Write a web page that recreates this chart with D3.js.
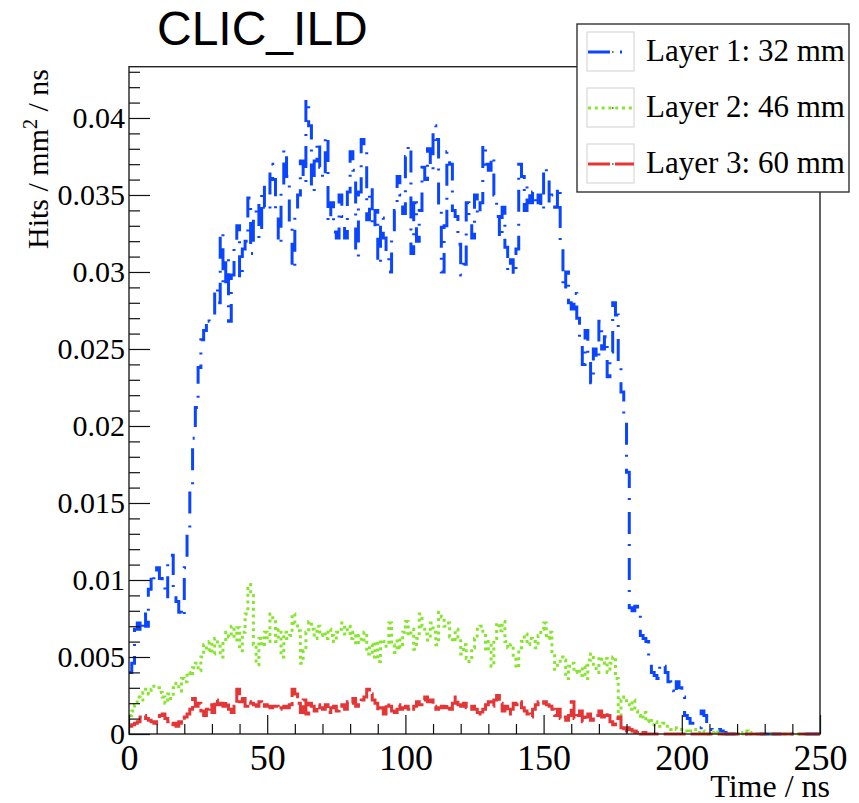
<!DOCTYPE html>
<html>
<head>
<meta charset="utf-8">
<script src="https://cdn.jsdelivr.net/npm/d3@7"></script>
<style>
  html, body { margin: 0; padding: 0; background: #fff; }
  svg { display: block; }
</style>
</head>
<body>
<svg id="chart" width="859" height="803"></svg>
<script>
// ---- data (1 ns bins, 0..250 ns) ----
const binEdges = [0, 250];
const layer1 = [
  0.0040,0.0046,0.0068,0.0072,0.0066,0.0078,0.0070,0.0094,0.0104,0.0100,
  0.0108,0.0101,0.0096,0.0088,0.0113,0.0116,0.0094,0.0086,0.0079,0.0076,
  0.0108,0.0132,0.0158,0.0192,0.0212,0.0238,0.0256,0.0262,0.0270,0.0268,
  0.0272,0.0290,0.0280,0.0326,0.0290,0.0310,0.0268,0.0298,0.0316,0.0330,
  0.0296,0.0315,0.0320,0.0348,0.0312,0.0335,0.0345,0.0322,0.0356,0.0342,
  0.0340,0.0370,0.0360,0.0338,0.0318,0.0355,0.0380,0.0362,0.0332,0.0302,
  0.0338,0.0350,0.0372,0.0358,0.0412,0.0395,0.0352,0.0372,0.0385,0.0368,
  0.0360,0.0389,0.0332,0.0345,0.0326,0.0322,0.0350,0.0336,0.0322,0.0352,
  0.0378,0.0366,0.0310,0.0352,0.0386,0.0378,0.0334,0.0355,0.0328,0.0340,
  0.0305,0.0335,0.0322,0.0312,0.0300,0.0325,0.0340,0.0362,0.0350,0.0338,
  0.0375,0.0383,0.0312,0.0345,0.0320,0.0340,0.0368,0.0360,0.0380,0.0366,
  0.0395,0.0386,0.0342,0.0300,0.0330,0.0378,0.0370,0.0340,0.0336,0.0318,
  0.0298,0.0305,0.0345,0.0330,0.0322,0.0350,0.0336,0.0345,0.0383,0.0370,
  0.0366,0.0375,0.0350,0.0336,0.0322,0.0342,0.0316,0.0300,0.0308,0.0298,
  0.0315,0.0370,0.0362,0.0340,0.0356,0.0345,0.0352,0.0342,0.0350,0.0340,
  0.0368,0.0360,0.0345,0.0350,0.0342,0.0355,0.0316,0.0288,0.0300,0.0280,
  0.0276,0.0286,0.0270,0.0256,0.0240,0.0262,0.0246,0.0228,0.0250,0.0243,
  0.0268,0.0250,0.0258,0.0232,0.0248,0.0280,0.0272,0.0240,0.0222,0.0205,
  0.0170,0.0082,0.0080,0.0083,0.0079,0.0064,0.0062,0.0060,0.0045,0.0040,
  0.0038,0.0036,0.0046,0.0044,0.0040,0.0034,0.0028,0.0025,0.0034,0.0030,
  0.0024,0.0012,0.0010,0.0007,0.0006,0.0005,0.0004,0.0015,0.0012,0.0006,
  0.0003,0.0002,0.0004,0.0003,0.0002,0.0001,0,0,0,0,
  0,0,0,0,0,0,0,0,0,0,
  0,0,0,0,0,0,0,0,0,0,
  0,0,0,0,0,0,0,0,0,0
];
const layer2 = [
  0.0012,0.0015,0.0019,0.0024,0.0022,0.0027,0.0029,0.0026,0.0029,0.0031,
  0.0030,0.0027,0.0024,0.0020,0.0026,0.0023,0.0030,0.0033,0.0028,0.0036,
  0.0034,0.0040,0.0038,0.0043,0.0046,0.0041,0.0050,0.0058,0.0054,0.0060,
  0.0052,0.0062,0.0057,0.0050,0.0060,0.0066,0.0063,0.0070,0.0061,0.0069,
  0.0054,0.0066,0.0078,0.0097,0.0090,0.0058,0.0045,0.0062,0.0057,0.0066,
  0.0060,0.0078,0.0074,0.0060,0.0068,0.0050,0.0066,0.0062,0.0064,0.0078,
  0.0072,0.0067,0.0046,0.0054,0.0066,0.0073,0.0068,0.0062,0.0070,0.0064,
  0.0066,0.0062,0.0068,0.0064,0.0060,0.0066,0.0068,0.0072,0.0065,0.0070,
  0.0062,0.0066,0.0058,0.0064,0.0060,0.0066,0.0052,0.0058,0.0050,0.0060,
  0.0047,0.0061,0.0060,0.0057,0.0072,0.0058,0.0053,0.0062,0.0056,0.0066,
  0.0073,0.0064,0.0068,0.0055,0.0062,0.0078,0.0070,0.0065,0.0061,0.0072,
  0.0066,0.0058,0.0079,0.0076,0.0070,0.0072,0.0063,0.0060,0.0068,0.0063,
  0.0052,0.0058,0.0049,0.0047,0.0056,0.0062,0.0068,0.0070,0.0064,0.0054,
  0.0060,0.0044,0.0062,0.0072,0.0067,0.0073,0.0060,0.0056,0.0058,0.0050,
  0.0043,0.0056,0.0060,0.0065,0.0058,0.0062,0.0060,0.0056,0.0064,0.0068,
  0.0072,0.0062,0.0066,0.0052,0.0042,0.0046,0.0050,0.0048,0.0036,0.0044,
  0.0046,0.0040,0.0042,0.0038,0.0044,0.0036,0.0048,0.0052,0.0044,0.0040,
  0.0050,0.0046,0.0049,0.0040,0.0046,0.0050,0.0036,0.0010,0.0022,0.0024,
  0.0019,0.0016,0.0022,0.0015,0.0012,0.0010,0.0014,0.0008,0.0010,0.0006,
  0.0008,0.0006,0.0005,0.0007,0.0005,0.0005,0.0003,0.0004,0.0003,0.0003,
  0.0002,0.0002,0.0001,0.0002,0.0003,0.0001,0.0001,0.0002,0.0001,0,
  0,0.0001,0.0002,0.0001,0,0,0,0,0,0,
  0,0,0.0001,0.0002,0.0001,0,0,0,0,0,
  0,0,0,0,0,0,0,0,0,0,
  0,0,0,0,0,0,0,0,0,0
];
const layer3 = [
  0.0005,0.0006,0.0007,0.0008,0.0011,0.0012,0.0010,0.0009,0.0008,0.0007,
  0.0008,0.0012,0.0013,0.0010,0.0008,0.0006,0.0007,0.0005,0.0008,0.0007,
  0.0011,0.0013,0.0016,0.0023,0.0018,0.0020,0.0015,0.0012,0.0016,0.0019,
  0.0014,0.0022,0.0019,0.0020,0.0018,0.0021,0.0016,0.0014,0.0018,0.0029,
  0.0021,0.0023,0.0018,0.0021,0.0020,0.0019,0.0018,0.0021,0.0018,0.0019,
  0.0018,0.0017,0.0018,0.0018,0.0016,0.0017,0.0018,0.0017,0.0019,0.0029,
  0.0026,0.0020,0.0014,0.0022,0.0013,0.0020,0.0018,0.0015,0.0019,0.0017,
  0.0016,0.0019,0.0014,0.0017,0.0018,0.0015,0.0016,0.0019,0.0016,0.0021,
  0.0020,0.0023,0.0018,0.0019,0.0022,0.0024,0.0029,0.0026,0.0022,0.0020,
  0.0015,0.0017,0.0013,0.0020,0.0018,0.0015,0.0014,0.0019,0.0016,0.0017,
  0.0018,0.0016,0.0015,0.0018,0.0021,0.0019,0.0022,0.0024,0.0021,0.0022,
  0.0018,0.0016,0.0017,0.0018,0.0017,0.0019,0.0016,0.0020,0.0024,0.0019,
  0.0018,0.0020,0.0017,0.0016,0.0018,0.0016,0.0014,0.0012,0.0016,0.0019,
  0.0021,0.0018,0.0022,0.0025,0.0020,0.0015,0.0018,0.0013,0.0016,0.0020,
  0.0019,0.0021,0.0017,0.0015,0.0013,0.0011,0.0016,0.0019,0.0021,0.0020,
  0.0021,0.0019,0.0018,0.0016,0.0012,0.0016,0.0010,0.0011,0.0009,0.0012,
  0.0021,0.0010,0.0012,0.0015,0.0008,0.0011,0.0013,0.0009,0.0011,0.0012,
  0.0015,0.0011,0.0014,0.0012,0.0008,0.0006,0.0010,0.0011,0.0004,0.0001,
  0.0004,0.0003,0.0002,0.0001,0.0002,0,0.0001,0,0,0,
  0,0,0,0,0,0,0,0,0,0,
  0,0,0,0,0,0,0,0,0,0,
  0,0,0,0,0,0,0,0,0,0,
  0,0,0,0,0,0,0,0,0,0,
  0,0,0,0,0,0,0,0,0,0,
  0,0,0,0,0,0,0,0,0,0
];
const seriesNames = ["Layer 1: 32 mm", "Layer 2: 46 mm", "Layer 3: 60 mm"];
const xTicksMajor = [0, 50, 100, 150, 200, 250];
const yTicksMajor = [0, 0.005, 0.01, 0.015, 0.02, 0.025, 0.03, 0.035, 0.04];
const yMax = 0.04333;
const titleText = "CLIC_ILD";
const xTitle = "Time / ns";

// ---- styles ----
const styles = [
  { color: "#0a46ff", dash: "22,10,2,12", width: 3 },
  { color: "#86e62e", dash: "3,3.8", width: 3 },
  { color: "#e43636", dash: "22,5", width: 3 }
];
const serif = "'Liberation Serif','Times New Roman',Times,serif";
const sans = "'Liberation Sans',Arial,Helvetica,sans-serif";

const svg = d3.select("#chart");
const L = 129, R = 820, T = 66.7, B = 734;
const x = d3.scaleLinear().domain(binEdges).range([L, R]);
const y = d3.scaleLinear().domain([0, yMax]).range([B, T]);

// histograms
const line = d3.line().x(d => x(d[0])).y(d => y(d[1])).curve(d3.curveStepAfter);
[layer1, layer2, layer3].forEach((vals, k) => {
  const pts = vals.map((v, i) => [i, v]);
  pts.push([vals.length, vals[vals.length - 1]]);
  svg.append("path")
    .attr("d", line(pts))
    .attr("fill", "none")
    .attr("stroke", styles[k].color)
    .attr("stroke-width", styles[k].width)
    .attr("stroke-dasharray", styles[k].dash)
    .attr("stroke-linecap", "butt");
});

// frame
svg.append("rect").attr("x", L).attr("y", T).attr("width", R - L).attr("height", B - T)
  .attr("fill", "none").attr("stroke", "#222").attr("stroke-width", 1.4);

// y axis
const fmt = d => d === 0 ? "0" : String(+d.toFixed(3));
const yMinor = d3.range(0, 0.0435, 0.001).map(v => +v.toFixed(3)).filter(v => !yTicksMajor.some(m => Math.abs(m - v) < 1e-9));
const gy = svg.append("g").attr("transform", `translate(${L},0)`);
gy.call(d3.axisLeft(y).tickValues(yTicksMajor).tickFormat(fmt).tickSizeInner(-21).tickSizeOuter(0).tickPadding(4));
const gym = svg.append("g").attr("transform", `translate(${L},0)`);
gym.call(d3.axisLeft(y).tickValues(yMinor).tickFormat("").tickSizeInner(-11).tickSizeOuter(0));
// x axis
const xMinor = d3.range(0, 251, 10).filter(v => v % 50 !== 0);
const gx = svg.append("g").attr("transform", `translate(0,${B})`);
gx.call(d3.axisBottom(x).tickValues(xTicksMajor).tickFormat(d3.format("d")).tickSizeInner(-19).tickSizeOuter(0).tickPadding(10));
const gxm = svg.append("g").attr("transform", `translate(0,${B})`);
gxm.call(d3.axisBottom(x).tickValues(xMinor).tickFormat("").tickSizeInner(-10).tickSizeOuter(0));

[gy, gym, gx, gxm].forEach(g => {
  g.select(".domain").remove();
  g.selectAll(".tick line").attr("stroke", "#111").attr("stroke-width", 1.2);
  g.selectAll("text").attr("font-family", serif).attr("font-size", 30).attr("fill", "#000");
});
gx.selectAll("text").attr("font-size", 36);

// titles
svg.append("text").attr("x", 157).attr("y", 45).attr("font-family", sans).attr("font-size", 48)
  .attr("fill", "#000").text(titleText);
svg.append("text").attr("x", 830).attr("y", 797).attr("text-anchor", "end")
  .attr("font-family", serif).attr("font-size", 32).attr("fill", "#000").text(xTitle);
const yt = svg.append("text").attr("transform", "translate(48,69) rotate(-90)")
  .attr("text-anchor", "end").attr("font-family", serif).attr("font-size", 30).attr("fill", "#000");
yt.append("tspan").text("Hits / mm");
yt.append("tspan").attr("font-size", 20).attr("dy", -11).text("2");
yt.append("tspan").attr("dy", 11).text(" / ns");

// legend
const lg = svg.append("g");
lg.append("rect").attr("x", 577).attr("y", 24).attr("width", 272).attr("height", 168)
  .attr("fill", "#fff").attr("stroke", "#333").attr("stroke-width", 1.4);
const rowY = [52, 108, 164];
seriesNames.forEach((name, k) => {
  const cy = rowY[k];
  lg.append("rect").attr("x", 587).attr("y", cy - 20).attr("width", 47).attr("height", 39)
    .attr("fill", "#fff").attr("stroke", "#d0d0d0").attr("stroke-width", 1);
  lg.append("line").attr("x1", 588).attr("x2", 634).attr("y1", cy).attr("y2", cy)
    .attr("stroke", styles[k].color).attr("stroke-width", styles[k].width)
    .attr("stroke-dasharray", styles[k].dash);
  lg.append("rect").attr("x", 612).attr("y", cy - 0.8).attr("width", 1.6).attr("height", 1.6).attr("fill", "#555");
  lg.append("text").attr("x", 646).attr("y", cy + 9).attr("font-family", serif).attr("font-size", 31)
    .attr("fill", "#000").text(name);
});
</script>
</body>
</html>
